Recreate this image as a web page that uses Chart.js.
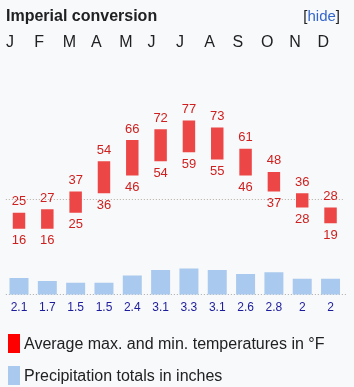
<!DOCTYPE html>
<html>
<head>
<meta charset="utf-8">
<script src="https://cdn.jsdelivr.net/npm/chart.js@4"></script>
<style>
  body { margin: 0; background: #f8f9fa; font-family: "Liberation Sans", Arial, sans-serif; color: #202122; }
  #wrap { position: relative; width: 354px; height: 387px; overflow: hidden; }
  #graph_climate { position: absolute; left: 0; top: 0; }
  .title { position: absolute; left: 6px; top: 6px; font-size: 16px; line-height: 20px; font-weight: bold; }
  .hide { position: absolute; right: 14px; top: 6px; font-size: 15px; line-height: 20px; }
  .hide a { color: #3366cc; text-decoration: none; }
  .leg { position: absolute; left: 24px; font-size: 16px; line-height: 20px; white-space: nowrap; }
  .swatch { position: absolute; left: 8px; width: 12px; height: 19px; }
</style>
</head>
<body>
<div id="wrap">
  <canvas id="graph_climate" width="354" height="387"></canvas>
  <div class="title">Imperial conversion</div>
  <div class="hide">[<a href="#">hide</a>]</div>
  <div class="swatch" style="top:334px;background:#ff0000"></div>
  <div class="leg" style="top:334px">Average max. and min. temperatures in °F</div>
  <div class="swatch" style="top:366px;background:#a9c9ee"></div>
  <div class="leg" style="top:366px">Precipitation totals in inches</div>
</div>
<script>
/*------------------------------*/
/*            DATA              */
/*------------------------------*/
var months = ['J', 'F', 'M', 'A', 'M', 'J', 'J', 'A', 'S', 'O', 'N', 'D']
var highF = [25, 27, 37, 54, 66, 72, 77, 73, 61, 48, 36, 28]
var lowF = [16, 16, 25, 36, 46, 54, 59, 55, 46, 37, 28, 19]
var precipIn = [2.1, 1.7, 1.5, 1.5, 2.4, 3.1, 3.3, 3.1, 2.6, 2.8, 2, 2]
var freezingF = 32

var tempBar = '#ec4646'
var tempText = '#cf1f1f'
var rainBar = '#a9c9ee'
var rainText = '#1c1c9c'

Chart.defaults.font.family = '"Liberation Sans", Arial, sans-serif'

/*------------------------------*/
/*      LABELS + DOT LINES      */
/*------------------------------*/
var climatePlugin = {
  id: 'climateExtras',
  beforeDatasetsDraw: function (chart) {
    var ctx = chart.ctx
    var area = chart.chartArea
    var yT = chart.scales.yT
    var yP = chart.scales.yP
    ctx.save()
    ctx.lineWidth = 1
    ctx.setLineDash([1, 2])
    ctx.strokeStyle = '#b5aca4'
    var y0 = Math.round(yT.getPixelForValue(freezingF)) - 0.5
    ctx.beginPath(); ctx.moveTo(area.left + 1, y0); ctx.lineTo(area.right - 1, y0); ctx.stroke()
    ctx.strokeStyle = '#aaaaaa'
    var y1 = Math.round(yP.getPixelForValue(0)) + 0.5
    ctx.beginPath(); ctx.moveTo(area.left + 1, y1); ctx.lineTo(area.right + 2, y1); ctx.stroke()
    ctx.restore()
  },
  afterDatasetsDraw: function (chart) {
    var ctx = chart.ctx
    var yT = chart.scales.yT
    var yP = chart.scales.yP
    var barsT = chart.getDatasetMeta(0).data
    var barsP = chart.getDatasetMeta(1).data
    ctx.save()
    ctx.textAlign = 'center'
    ctx.textBaseline = 'middle'
    ctx.font = '13px "Liberation Sans", Arial, sans-serif'
    ctx.fillStyle = tempText
    barsT.forEach(function (bar, i) {
      ctx.fillText(String(highF[i]), bar.x, yT.getPixelForValue(highF[i]) - 11)
      ctx.fillText(String(lowF[i]), bar.x, yT.getPixelForValue(lowF[i]) + 12)
    })
    ctx.font = '12px "Liberation Sans", Arial, sans-serif'
    ctx.fillStyle = rainText
    barsP.forEach(function (bar, i) {
      ctx.fillText(String(precipIn[i]), bar.x, yP.getPixelForValue(0) + 13)
    })
    ctx.restore()
  }
}

/*------------------------------*/
/*           CHART              */
/*------------------------------*/
var ctx_climate = document.getElementById('graph_climate').getContext('2d')

var data_climate = {
  labels: months,
  datasets: [
    {
      label: 'Average max. and min. temperatures in °F',
      data: highF.map(function (h, i) { return [lowF[i], h] }),
      yAxisID: 'yT',
      backgroundColor: tempBar,
      barPercentage: 0.44,
      categoryPercentage: 1,
      grouped: false
    },
    {
      label: 'Precipitation totals in inches',
      data: precipIn,
      yAxisID: 'yP',
      backgroundColor: rainBar,
      barPercentage: 0.67,
      categoryPercentage: 1,
      grouped: false
    }
  ]
}

var config_climate = {
  type: 'bar',
  data: data_climate,
  options: {
    responsive: false,
    animation: false,
    layout: { padding: { left: 4.84, right: 9.3, top: 33, bottom: 67 } },
    plugins: {
      legend: { display: false },
      tooltip: { enabled: false },
      title: { display: false }
    },
    scales: {
      x: {
        type: 'category',
        position: 'top',
        grid: { display: false, drawTicks: false },
        border: { display: false },
        ticks: {
          align: 'start',
          labelOffset: -13,
          padding: 0,
          autoSkip: false,
          maxRotation: 0,
          color: '#202122',
          font: { size: 16 }
        },
        afterFit: function (scale) { scale.height = 19 }
      },
      yT: { type: 'linear', display: false, min: -35.45, max: 115.55 },
      yP: { type: 'linear', display: false, min: -3.23, max: 30.69 }
    }
  },
  plugins: [climatePlugin]
}
var graph_climate = new Chart(ctx_climate, config_climate)
</script>
</body>
</html>
